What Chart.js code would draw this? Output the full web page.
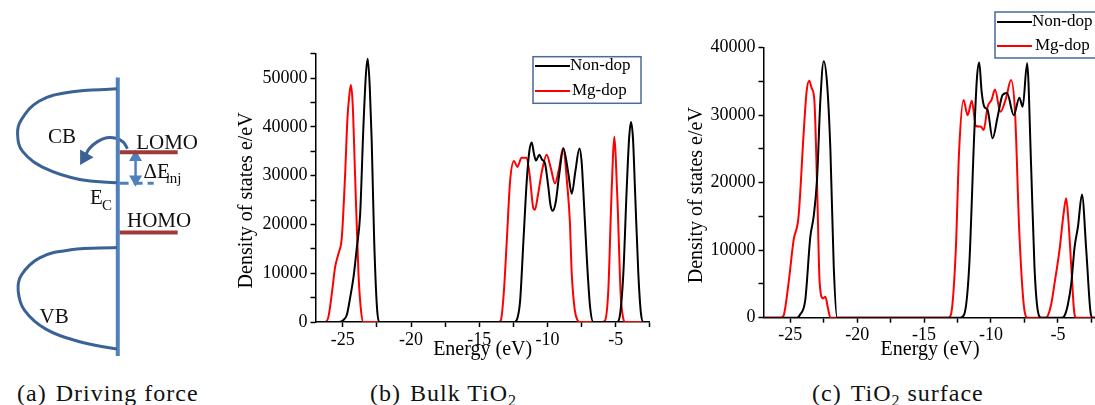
<!DOCTYPE html>
<html><head><meta charset="utf-8">
<script src="https://cdn.jsdelivr.net/npm/chart.js@4.4.1/dist/chart.umd.min.js"></script>
<style>
html,body{margin:0;padding:0;background:#fff;}
body{width:1095px;height:405px;position:relative;overflow:hidden;font-family:"Liberation Serif","Times New Roman",Times,"DejaVu Serif",serif;}
canvas{position:absolute;}
.cap{position:absolute;top:379px;font-size:24px;line-height:28px;white-space:nowrap;color:#111;letter-spacing:1px;}
.cap sub{font-size:16px;line-height:0;vertical-align:-5px;}
</style></head><body>
<canvas id="cA" width="230" height="365" style="left:0;top:0"></canvas>
<canvas id="cB" width="430" height="325" style="left:230px;top:40px"></canvas>
<canvas id="cC" width="430" height="365" style="left:680px;top:0"></canvas>
<div class="cap" style="left:17px">(a)<span style="margin-left:9px">Driving force</span></div>
<div class="cap" style="left:370px">(b)<span style="margin-left:9px">Bulk TiO<sub>2</sub></span></div>
<div class="cap" style="left:812px">(c)<span style="margin-left:9px">TiO<sub>2</sub> surface</span></div>
<script>
// ---------- Panel (b): bulk TiO2 DOS ----------
const bulkNonE   = [-27,-25.3,-25.0,-24.7,-24.46,-24.2,-23.97,-23.73,-23.49,-23.3,-23.17,-23.02,-22.88,-22.7,-22.5,-22.34,
                    -12.4,-12.2,-12.0,-11.76,-11.52,-11.33,-11.15,-10.99,-10.84,-10.6,-10.4,-10.18,-9.95,-9.78,-9.62,-9.4,-9.15,-8.83,-8.5,-8.22,-7.95,-7.66,-7.5,-7.37,-7.12,-6.88,-6.64,
                    -4.9,-4.7,-4.44,-4.2,-4.02,-3.88,-3.73,-3.58,-3.34,-3.15,-2.97,-2.5];
const bulkNonDos = [0,0,300,1500,5000,9500,15300,22000,40000,51000,54000,48000,37000,16700,3200,0,
                    0,800,4500,16700,28850,35000,36800,34500,33100,34300,33300,32500,28000,24000,22800,24500,30000,35600,31000,26300,31000,35600,33000,26800,13300,3200,0,
                    0,1200,9900,26800,37500,41000,37500,26800,9900,1800,0,0];
const bulkMgE    = [-27,-26.3,-26.05,-25.8,-25.56,-25.32,-25.07,-24.83,-24.66,-24.52,-24.41,-24.28,-24.1,-23.85,-23.65,-23.49,
                    -13.6,-13.42,-13.2,-12.98,-12.74,-12.45,-12.2,-11.9,-11.53,-11.3,-11.04,-10.92,-10.7,-10.4,-10.06,-9.75,-9.45,-9.15,-8.85,-8.55,-8.36,-8.22,-8.0,-7.8,-7.61,
                    -6.0,-5.78,-5.54,-5.34,-5.2,-5.1,-5.0,-4.85,-4.63,-4.45,-4.32,-2.5];
const bulkMgDos  = [0,0,1100,5900,11300,14000,17400,30200,41700,46500,48600,45000,30200,9900,2000,0,
                    0,300,6000,16700,28850,33000,31800,33700,33700,30000,23400,23000,26000,31000,34300,31500,28400,31500,35700,28100,20700,9900,2500,400,0,
                    0,300,6550,23400,34000,38000,34000,23400,5500,800,0,0];

// ---------- Panel (c): TiO2 surface DOS ----------
const surfNonE   = [-27,-24.5,-24.25,-23.88,-23.5,-23.25,-23.0,-22.75,-22.5,-22.25,-22.0,-21.75,-21.5,
                    -12.3,-12.0,-11.63,-11.25,-11.05,-10.88,-10.7,-10.5,-10.25,-9.88,-9.5,-9.13,-8.8,-8.3,-7.88,-7.63,-7.3,-7.0,-6.75,-6.5,-6.25,
                    -4.7,-4.5,-4.25,-4.0,-3.75,-3.5,-3.2,-2.88,-2.55,-2.4,-2.0];
const surfNonDos = [0,0,500,2600,12000,15000,20500,32250,38000,34700,24800,7550,0,
                    0,500,7550,27300,35500,37800,33500,31250,30760,26570,29800,33000,33300,30000,32600,31250,37700,22400,7550,1000,0,
                    0,300,2000,5090,10500,13500,18270,10000,640,0,0];
const surfMgE    = [-27,-25.7,-25.5,-25.13,-24.75,-24.38,-24.0,-23.78,-23.58,-23.4,-23.2,-23.0,-22.8,-22.55,-22.38,-22.2,-22.0,
                    -13.2,-13.0,-12.63,-12.38,-12.05,-11.75,-11.43,-11.13,-10.75,-10.55,-10.25,-9.95,-9.7,-9.3,-8.88,-8.5,-8.2,-7.88,-7.5,-7.25,
                    -5.9,-5.75,-5.5,-5.25,-4.88,-4.6,-4.38,-4.2,-4.0,-3.75,-3.6,-2.0];
const surfMgDos  = [0,0,300,5090,11500,15000,27300,33500,35100,34000,32250,19900,5090,2860,3100,1600,0,
                    0,400,10000,24800,32250,30000,32150,28400,28300,27800,31250,32300,33800,30500,32500,35200,30300,12500,1100,0,
                    0,300,2000,5090,10000,15000,17700,14000,7550,400,0,0];

const seriesLabels = ['Non-dop','Mg-dop'];
const seriesColors = ['#000000','#ff0000'];

// ---------- Panel (a): schematic (values in diagram units) ----------
const bandAxis  = [[118,72],[118,365]];
const cbCurve   = [[117,84],[67,87.3],[33,96.7],[13.3,116.7],[9.3,131.7],[15,150],[40,168],[76.7,179.3],[117,182.7]];
const vbCurve   = [[117,251],[67,253.3],[33.3,261.7],[13.3,280],[10,296.7],[16.7,316.7],[40,336.7],[76.7,350],[117,357.7]];
const lomoLevel = [[120,150.7],[183,150.7]];
const homoLevel = [[120,235],[183,235]];
const ecLevel   = [[120,183.3],[157,183.3]];
const injArrow  = [[137.3,156],[137.3,179]];
const hopArrow  = [[128.5,147],[124,140],[116,136],[106,135.5],[96,139.5],[87,147],[82,156]];

const FONT = '"Liberation Serif", "Times New Roman", Times, "DejaVu Serif", serif';

const pts = a => a.map(p => ({x:p[0], y:p[1]}));
const xy = (xs, ys) => xs.map((x,i) => ({x:x, y:ys[i]}));

const diagramText = {
  id:'diagramText',
  afterDatasetsDraw(chart){
    const {ctx, scales:{x, y}} = chart;
    const items = [
      ['CB', 57.5, 135, 21, 'center'],
      ['LOMO', 138, 141, 21, 'left'],
      ['\u0394E', 146, 172, 21, 'left'],
      ['inj', 170, 179, 15, 'left'],
      ['E', 88, 199, 21, 'left'],
      ['C', 101, 207, 15, 'left'],
      ['HOMO', 128, 223, 21, 'left'],
      ['VB', 49, 325, 21, 'center']
    ];
    ctx.save();
    ctx.fillStyle = '#111';
    ctx.textBaseline = 'middle';
    items.forEach(([t, vx, vy, s, al]) => {
      ctx.font = s + 'px ' + FONT;
      ctx.textAlign = al;
      ctx.fillText(t, x.getPixelForValue(vx), y.getPixelForValue(vy));
    });
    ctx.restore();
  }
};

function seg(data, color, width, extra){
  return Object.assign({data: pts(data), borderColor: color, backgroundColor: color, borderWidth: width,
    showLine: true, pointRadius: 0, fill: false, tension: 0}, extra || {});
}

new Chart(document.getElementById('cA'), {
  type: 'scatter',
  data: {datasets: [
    seg(cbCurve, '#3b6296', 3, {tension: 0.4}),
    seg(vbCurve, '#3b6296', 3, {tension: 0.4}),
    seg(bandAxis, '#4f81bd', 4),
    seg(lomoLevel, '#9e3a3a', 4),
    seg(homoLevel, '#9e3a3a', 4),
    seg(ecLevel, '#4f81bd', 3, {borderDash: [9,5]}),
    seg(injArrow, '#4f81bd', 2.5, {pointRadius: [5,5], pointStyle: 'triangle', rotation: [0,180]}),
    seg(hopArrow, '#3b6296', 3, {tension: 0.4, pointRadius: [0,0,0,0,0,0,6], pointStyle: 'triangle', rotation: 210})
  ]},
  options: {
    responsive: false, animation: false, devicePixelRatio: 1,
    layout: {padding: 0},
    plugins: {legend: {display: false}, tooltip: {enabled: false}},
    scales: {
      x: {type: 'linear', min: 0, max: 230, display: false},
      y: {type: 'linear', min: 0, max: 365, reverse: true, display: false}
    }
  },
  plugins: [diagramText]
});

const boxLegend = {
  id: 'boxLegend',
  afterDatasetsDraw(chart, args, o){
    const ctx = chart.ctx;
    ctx.save();
    ctx.fillStyle = '#fff';
    ctx.fillRect(o.x, o.y, o.w, o.h);
    ctx.strokeStyle = '#4a6b96'; ctx.lineWidth = 1.5;
    ctx.strokeRect(o.x, o.y, o.w, o.h);
    ctx.font = '17px ' + FONT;
    ctx.textBaseline = 'middle'; ctx.textAlign = 'left';
    chart.data.datasets.forEach((ds, i) => {
      const yy = o.rows[i];
      ctx.strokeStyle = ds.borderColor; ctx.lineWidth = 2;
      ctx.beginPath(); ctx.moveTo(o.x1, yy); ctx.lineTo(o.x2, yy); ctx.stroke();
      ctx.fillStyle = '#000';
      ctx.fillText(ds.label, o.tx[i], yy);
    });
    ctx.restore();
  }
};

function dosChart(id, c){
  return new Chart(document.getElementById(id), {
    type: 'line',
    data: {datasets: [
      {label: seriesLabels[0], data: c.non, borderColor: seriesColors[0], borderWidth: 2, pointRadius: 0, cubicInterpolationMode: 'monotone', fill: false},
      {label: seriesLabels[1], data: c.mg,  borderColor: seriesColors[1], borderWidth: 2, pointRadius: 0, cubicInterpolationMode: 'monotone', fill: false}
    ]},
    options: {
      responsive: false, animation: false, devicePixelRatio: 1,
      layout: {padding: c.pad},
      plugins: {legend: {display: false}, tooltip: {enabled: false}, boxLegend: c.legend},
      scales: {
        x: {
          type: 'linear', min: -27, max: c.xmax,
          ticks: {stepSize: 2.5, includeBounds: false, autoSkip: false, maxRotation: 0, padding: 2, color: '#000',
                  font: {family: FONT, size: 18}, callback: v => (Math.abs(v % 5) < 1e-9 ? String(v) : '')},
          grid: {drawOnChartArea: false, drawTicks: true, tickLength: 5, tickColor: '#000', tickWidth: 1.5},
          border: {display: true, color: '#000', width: 1.5},
          title: {display: true, text: 'Energy (eV)', color: '#000', font: {family: FONT, size: 20}, padding: {top: 0, bottom: 3}},
          afterFit(s){ s.height = c.xh; }
        },
        y: {
          type: 'linear', min: 0, max: c.ymax,
          ticks: {stepSize: 5000, autoSkip: false, padding: 3, color: '#000',
                  font: {family: FONT, size: 18}, callback: v => (v % 10000 === 0 ? String(v) : '')},
          grid: {drawOnChartArea: false, drawTicks: true, tickLength: 5, tickColor: '#000', tickWidth: 1.5},
          border: {display: true, color: '#000', width: 1.5},
          title: {display: true, text: 'Density of states e/eV     ', color: '#000', font: {family: FONT, size: 20}, padding: {top: 5, bottom: 0}},
          afterFit(s){ s.width = c.yw; }
        }
      }
    },
    plugins: [boxLegend]
  });
}

dosChart('cB', {
  non: xy(bulkNonE, bulkNonDos), mg: xy(bulkMgE, bulkMgDos),
  xmax: -2.5, ymax: 55000, yw: 85.5, xh: 43,
  pad: {left: 0, top: 11, right: 10.2, bottom: 0},
  legend: {x: 303, y: 16.7, w: 108, h: 46.6, x1: 305, x2: 340, rows: [26, 51], tx: [340, 342]}
});
dosChart('cC', {
  non: xy(surfNonE, surfNonDos), mg: xy(surfMgE, surfMgDos),
  xmax: -2.1, ymax: 40000, yw: 83.5, xh: 47.3,
  pad: {left: 0, top: 47.7, right: 13.3, bottom: 0},
  legend: {x: 315, y: 12, w: 120, h: 46, x1: 317, x2: 352, rows: [22, 46], tx: [352, 355]}
});
</script>
</body></html>
